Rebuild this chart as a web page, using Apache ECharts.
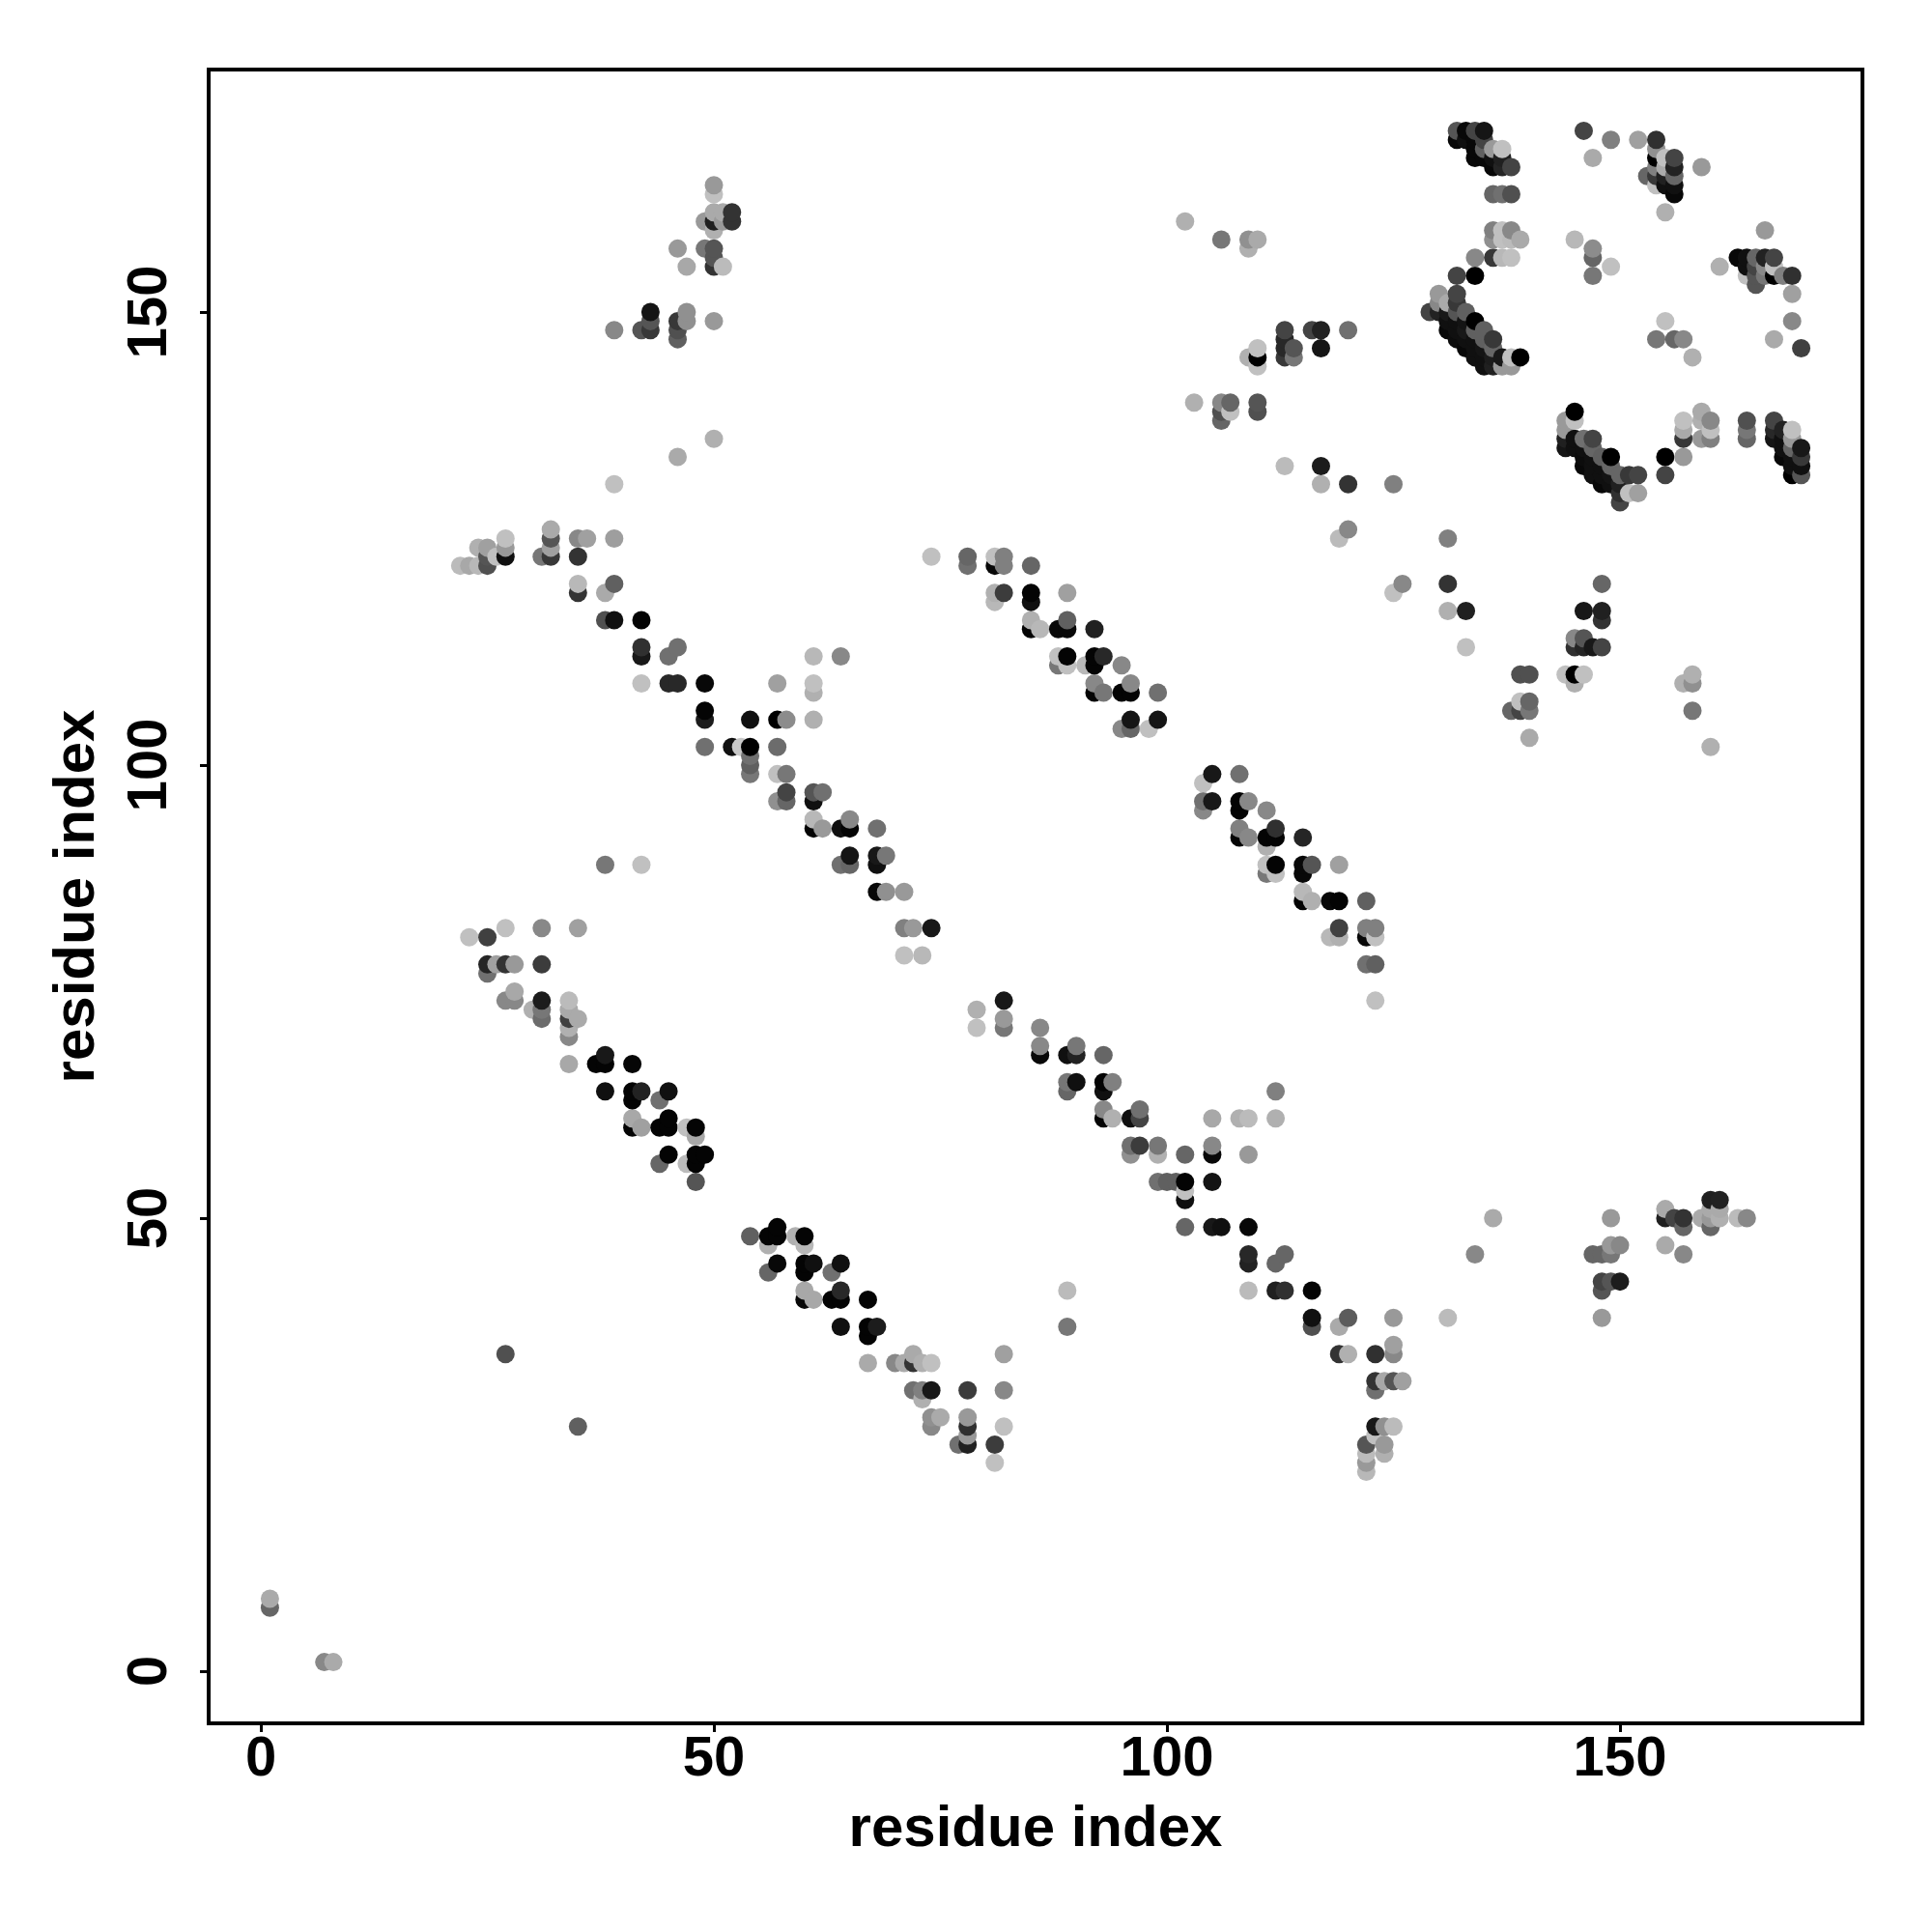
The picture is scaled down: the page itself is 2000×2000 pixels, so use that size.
<!DOCTYPE html>
<html><head><meta charset="utf-8">
<style>html,body{margin:0;padding:0;background:#fff}#c{width:2000px;height:2000px}</style>
<script src="https://cdn.jsdelivr.net/npm/echarts@6/dist/echarts.min.js"></script>
</head><body><div id="c"></div>
<script>
// each entry: [residue x, residue y, grey level]
const origin = [[1,8,0xaa],[1,7,0x66],[7,1,0x88],[8,1,0xaa],[27,35,0x50],[35,27,0x60]];
const helixLow1 = [[27,82,0xc0],[31,82,0x88],[35,82,0xa0],[23,81,0xc0],[25,81,0x40],[25,78,0x25],[26,78,0xa0],[27,78,0x33],[28,78,0x99],[31,78,0x3c],[25,77,0x70],[28,75,0xa8],[27,74,0x88],[28,74,0x88],[31,74,0x1c],[34,74,0xbb],[30,73,0xb0],[31,73,0x77],[34,73,0xaa],[31,72,0x6c],[34,72,0x40],[35,72,0xaa],[34,71,0xb0],[34,70,0x88],[38,68,0x18],[34,67,0xa8],[37,67,0x04],[38,67,0x04],[41,67,0x06],[38,64,0x10],[41,64,0x04],[42,64,0x22],[45,64,0x10],[41,63,0x04],[44,63,0x70],[41,61,0xa8],[45,61,0x04],[41,60,0x04],[42,60,0xa0],[44,60,0x04],[45,60,0x04],[47,60,0xc0],[48,60,0x04],[48,59,0xa8],[45,57,0x04],[48,57,0x04],[49,57,0x04],[44,56,0x66],[47,56,0xbb],[48,56,0x04],[48,54,0x55]];
const helixLow2 = [[57,49,0x04],[54,48,0x60],[56,48,0x04],[57,48,0x04],[59,48,0xb0],[60,48,0x04],[56,47,0xb0],[60,47,0xb8],[57,45,0x08],[60,45,0x04],[61,45,0x10],[64,45,0x10],[56,44,0x66],[60,44,0x04],[63,44,0x70],[60,42,0xa8],[64,42,0x28],[60,41,0x08],[61,41,0xa8],[63,41,0x04],[64,41,0x04],[67,41,0x04],[64,38,0x10],[67,38,0x04],[68,38,0x1c],[67,37,0x04],[72,35,0xaa],[82,35,0xa0],[67,34,0xaa],[70,34,0x88],[71,34,0xaa],[72,34,0x33],[73,34,0xb0],[74,34,0xc0],[72,31,0x70],[73,31,0x80],[74,31,0x18],[78,31,0x3c],[82,31,0x88],[73,30,0xb0],[74,28,0x90],[75,28,0xaa],[78,28,0x99],[74,27,0x88],[78,27,0x30],[82,27,0xc0],[78,26,0x99],[77,25,0x70],[78,25,0x20],[81,25,0x3c],[81,23,0xc0]];
const helixMid = [[82,74,0x18],[123,74,0xc0],[79,73,0xb0],[82,72,0x99],[79,71,0xc0],[82,71,0x77],[86,71,0x88],[86,69,0x88],[90,69,0x77],[86,68,0x08],[89,68,0x10],[90,68,0x22],[93,68,0x66],[89,65,0x77],[90,65,0x10],[93,65,0x04],[94,65,0x80],[89,64,0x66],[93,64,0x10],[112,64,0x80],[93,62,0x88],[97,62,0x70],[93,61,0x04],[94,61,0xb0],[96,61,0x10],[97,61,0x44],[105,61,0xa8],[108,61,0xb0],[109,61,0xbb],[112,61,0xb0],[96,58,0x70],[97,58,0x3c],[99,58,0x77],[105,58,0x88],[96,57,0x90],[99,57,0xb0],[102,57,0x66],[105,57,0x08],[109,57,0x99],[99,54,0x70],[100,54,0x60],[101,54,0x60],[102,54,0x04],[105,54,0x14],[102,53,0xc0],[102,52,0x10],[102,49,0x66],[105,49,0x18],[106,49,0x10],[109,49,0x08],[109,46,0x28],[113,46,0x66],[109,45,0x22],[112,45,0x66],[89,42,0xbb],[109,42,0xbb],[112,42,0x20],[113,42,0x30],[116,42,0x04],[89,38,0x77]];
const helixLow3 = [[116,39,0x10],[120,39,0x5c],[125,39,0x99],[116,38,0x50],[119,38,0xaa],[125,36,0xa0],[119,35,0x33],[120,35,0xb0],[123,35,0x30],[125,35,0x88],[123,32,0x33],[124,32,0xa8],[125,32,0x55],[126,32,0xa0],[123,31,0x70],[123,27,0x18],[124,27,0x90],[125,27,0xbb],[123,26,0xc0],[122,25,0x55],[124,25,0x99],[122,24,0xbb],[124,24,0xb0],[122,23,0x99],[122,22,0xb8]];
const sideLow = [[136,50,0xaa],[134,46,0x88],[131,39,0xbb],[149,50,0x99],[147,46,0x66],[148,46,0x66],[149,46,0x77],[149,47,0x99],[150,47,0x88],[148,43,0x44],[149,43,0x55],[150,43,0x1c],[148,42,0x55],[148,39,0x99],[155,51,0xaa],[155,50,0x20],[156,50,0x44],[157,50,0x33],[157,49,0x66],[155,47,0xaa],[157,46,0x88],[159,50,0xaa],[160,52,0x20],[161,52,0x22],[160,51,0xaa],[160,50,0x99],[160,49,0x66],[161,51,0xaa],[161,50,0xb0],[163,50,0xbb],[164,50,0x88]];
const helixUp1 = [[32,126,0xaa],[27,125,0xc0],[32,125,0x55],[35,125,0x88],[36,125,0xa0],[39,125,0x9e],[24,124,0xb0],[25,124,0xa0],[27,124,0x99],[32,124,0xa0],[25,123,0x55],[26,123,0xc0],[27,123,0x10],[31,123,0x77],[32,123,0x38],[35,123,0x33],[22,122,0xbb],[23,122,0xa8],[24,122,0xb8],[25,122,0x50],[35,120,0xb8],[39,120,0x60],[35,119,0x33],[38,119,0xaa],[38,116,0x50],[39,116,0x10],[42,116,0x04],[42,113,0x30],[46,113,0x70],[42,112,0x18],[45,112,0x70],[61,112,0xb8],[64,112,0x88],[42,109,0xc0],[45,109,0x28],[46,109,0x28],[49,109,0x08],[57,109,0xa0],[61,109,0xc0],[61,108,0xb0],[49,106,0x04],[49,105,0x1c],[54,105,0x10],[57,105,0x00],[58,105,0x8c],[61,105,0xb0],[49,102,0x70],[52,102,0x10],[53,102,0xc8],[54,102,0x00],[57,102,0x6c],[54,101,0x70],[54,100,0x60],[54,99,0x77],[57,99,0xc0],[58,99,0x77],[58,97,0x44],[61,97,0x55],[62,97,0x70],[57,96,0x90],[58,96,0x66],[61,96,0x10],[61,94,0xb8],[65,94,0x88],[61,93,0x04],[62,93,0x99],[64,93,0x10],[65,93,0x04],[68,93,0x70],[65,90,0x15],[68,90,0x18],[69,90,0x77],[38,89,0x77],[42,89,0xc0],[64,89,0x70],[65,89,0x66],[68,89,0x10],[68,86,0x08],[69,86,0x90],[71,86,0x99],[71,82,0x80],[72,82,0x99],[74,82,0x18],[71,79,0xc0],[73,79,0xb8]];
const helixUp2 = [[74,123,0xc0],[78,123,0x66],[81,123,0xc0],[82,123,0x80],[78,122,0x70],[81,122,0x08],[82,122,0x80],[85,122,0x66],[81,119,0xb0],[82,119,0x3c],[85,119,0x04],[89,119,0xa0],[81,118,0xb8],[85,118,0x10],[85,116,0xb0],[89,116,0x60],[85,115,0x04],[86,115,0xb8],[88,115,0x08],[89,115,0x08],[92,115,0x20],[88,112,0xc0],[89,112,0x04],[92,112,0x04],[93,112,0x28],[88,111,0x77],[89,111,0xc0],[91,111,0xb8],[92,111,0x04],[95,111,0x88],[92,109,0x88],[96,109,0x88],[92,108,0x04],[93,108,0x77],[95,108,0x04],[96,108,0x04],[99,108,0x70],[96,105,0x15],[99,105,0x15],[95,104,0x88],[96,104,0x66],[98,104,0xc0]];
const helixUp3 = [[105,99,0x18],[108,99,0x70],[104,98,0xc0],[104,96,0x70],[105,96,0x18],[108,96,0x04],[109,96,0x88],[104,95,0x88],[108,95,0x04],[111,95,0x88],[108,93,0x80],[112,93,0x30],[108,92,0x04],[109,92,0x88],[111,92,0x04],[112,92,0x04],[115,92,0x25],[111,91,0xb0],[111,89,0xc0],[112,89,0x04],[115,89,0x08],[116,89,0x55],[119,89,0xa0],[111,88,0x77],[112,88,0xc0],[115,88,0x08],[115,86,0xb8],[115,85,0x04],[116,85,0xb0],[118,85,0x08],[119,85,0x04],[122,85,0x60],[119,82,0x40],[122,82,0x80],[123,82,0x80],[118,81,0xb8],[119,81,0xb0],[122,81,0x08],[123,81,0xc0],[122,78,0x70],[123,78,0x60]];
const sideUp = [[50,164,0x99],[50,163,0xc0],[50,161,0xaa],[51,161,0xaa],[52,161,0x33],[49,160,0x99],[50,160,0x20],[51,160,0x99],[52,160,0x33],[50,159,0xb0],[46,157,0x99],[49,157,0x77],[50,157,0x55],[50,156,0x55],[47,155,0xa8],[50,155,0x33],[51,155,0xbb],[43,150,0x15],[47,150,0x90],[43,149,0x55],[46,149,0x38],[47,149,0x90],[50,149,0x99],[39,148,0x88],[42,148,0x55],[43,148,0x38],[46,148,0x50],[46,147,0x60],[50,136,0xb0],[46,134,0xaa],[39,131,0xc0]];
const midUp = [[102,160,0xb0],[106,158,0x77],[109,158,0x90],[109,157,0xb0],[110,158,0xaa],[113,148,0x44],[113,147,0x28],[113,146,0x28],[113,145,0x38],[114,146,0x55],[114,145,0x77],[116,148,0x44],[117,148,0x22],[117,146,0x15],[120,148,0x70],[109,145,0xb0],[110,146,0xc0],[110,145,0x00],[110,144,0xc0],[103,140,0xb0],[106,140,0x88],[107,140,0x66],[106,139,0x50],[107,139,0xc0],[106,138,0x66],[110,140,0x55],[110,139,0x50],[113,133,0xbb],[117,133,0x1c],[117,131,0xb0],[120,131,0x33],[125,131,0x80],[120,126,0x88],[119,125,0xbb],[125,119,0xc0],[126,120,0x88],[131,125,0x80],[131,120,0x33],[131,117,0xb0],[133,117,0x20],[133,113,0xc0]];
const clusterA = [[132,170,0x55],[132,169,0x08],[133,170,0x08],[133,169,0x10],[134,170,0x44],[134,169,0x08],[134,168,0x08],[134,167,0x08],[135,170,0x15],[135,169,0x44],[135,168,0x60],[135,167,0x08],[136,168,0x99],[136,167,0x10],[136,166,0x08],[137,168,0xc0],[137,167,0x20],[137,166,0x25],[138,166,0x44],[136,163,0x66],[137,163,0x70],[138,163,0x50],[136,159,0x80],[137,159,0xc0],[138,159,0x88],[136,158,0x90],[137,158,0xc0],[138,158,0xbb],[139,158,0xaa],[136,156,0x38],[137,156,0xb8],[138,156,0xc0],[134,156,0x88],[132,154,0x44],[134,154,0x00]];
const clusterB = [[132,152,0x44],[130,152,0x99],[130,151,0x88],[131,151,0xaa],[132,151,0x38],[129,150,0x44],[130,150,0x22],[131,150,0x18],[132,150,0x55],[133,150,0x60],[131,149,0x10],[132,149,0x10],[133,149,0x14],[134,149,0x00],[131,148,0x08],[132,148,0x10],[133,148,0x18],[134,148,0x60],[135,148,0x60],[132,147,0x0c],[133,147,0x10],[134,147,0x10],[135,147,0x60],[136,147,0x38],[133,146,0x08],[134,146,0x10],[135,146,0x14],[136,146,0x66],[134,145,0x10],[135,145,0x10],[136,145,0x1c],[137,145,0x18],[138,145,0xc0],[139,145,0x00],[135,144,0x10],[136,144,0x20],[137,144,0x99],[138,144,0x99]];
const clusterC = [[146,170,0x44],[149,169,0x80],[147,167,0xaa],[152,169,0xa0],[154,169,0x30],[154,168,0x90],[154,167,0x00],[154,166,0x80],[154,165,0x38],[153,165,0x66],[154,164,0xc0],[155,167,0xc0],[155,166,0xaa],[155,165,0x20],[155,164,0x10],[156,167,0x44],[156,166,0x22],[156,165,0x66],[156,164,0x10],[156,163,0x08],[155,161,0xb0],[159,166,0x99],[145,158,0xb8],[147,157,0x8c],[147,156,0x66],[149,155,0xc0],[147,154,0x77],[155,149,0xc0],[154,147,0x77],[156,147,0x66],[157,147,0x88],[158,145,0xb0]];
const clusterD = [[166,159,0x99],[161,155,0xb0],[163,156,0x08],[164,156,0x10],[165,156,0x66],[166,156,0x22],[167,156,0x44],[164,155,0x10],[165,155,0x44],[166,155,0x88],[167,155,0xc0],[164,154,0xc0],[165,154,0x55],[166,154,0x77],[167,154,0x00],[168,154,0x80],[169,154,0x30],[165,153,0x55],[169,152,0xa0],[169,149,0x88],[167,147,0xaa],[170,146,0x40]];
const clusterE = [[145,139,0x00],[144,138,0x99],[145,138,0xc0],[144,137,0x99],[144,136,0x20],[145,136,0x10],[146,136,0x70],[147,136,0x44],[144,135,0x15],[145,135,0x10],[146,135,0x10],[147,135,0x66],[146,134,0x0c],[147,134,0x10],[148,134,0x60],[149,134,0x00],[146,133,0x08],[147,133,0x10],[148,133,0x10],[149,133,0x66],[147,132,0x10],[148,132,0x10],[149,132,0x14],[150,132,0x66],[151,132,0x38],[152,132,0x44],[148,131,0x08],[149,131,0x10],[150,131,0x20],[150,130,0x30],[151,130,0xc0],[152,130,0xa0],[150,129,0x44],[155,134,0x00],[155,132,0x44],[157,134,0x99],[157,136,0x38],[157,137,0xaa],[157,138,0xc0],[159,139,0xaa],[159,138,0xb0],[160,138,0x88],[159,136,0x99],[160,137,0xc0],[160,136,0x80]];
const clusterF = [[164,138,0x50],[164,137,0x77],[164,136,0x66],[167,138,0x44],[167,137,0x28],[167,136,0x15],[168,137,0x22],[169,137,0xc0],[168,136,0x10],[169,136,0x99],[168,135,0x10],[169,135,0x66],[170,135,0x18],[168,134,0x08],[169,134,0x10],[170,134,0x38],[169,133,0x10],[170,133,0x10],[169,132,0x00],[170,132,0x55]];
const clusterG = [[139,110,0x50],[140,110,0x50],[138,106,0x66],[139,106,0x44],[140,106,0x77],[139,107,0xc0],[140,107,0x66],[140,103,0xaa],[144,110,0xc0],[145,110,0x00],[146,110,0xc0],[145,109,0xb0],[145,113,0x30],[146,113,0x25],[147,113,0x18],[148,113,0x44],[145,114,0x88],[146,114,0x55],[146,117,0x18],[148,117,0x20],[148,116,0x33],[148,120,0x66],[158,110,0xb0],[158,109,0x90],[157,109,0xb0],[158,106,0x77],[160,102,0xb0]];
const tickValues = [0, 50, 100, 150];
const axisName = 'residue index';
const axisRange = [-5.76, 176.76];

const contacts = [].concat(origin, helixLow1, helixLow2, helixLow3, helixMid, sideLow, helixUp1, helixUp2, helixUp3, sideUp, midUp, clusterA, clusterB, clusterC, clusterD, clusterE, clusterF, clusterG)
  .sort((a, b) => a[0] - b[0] || a[1] - b[1]);

const chart = echarts.init(document.getElementById('c'));
const font = 'Liberation Sans';
const axis = (extra) => Object.assign({
  type: 'value', min: axisRange[0], max: axisRange[1], splitLine: {show: false},
  name: axisName, nameLocation: 'middle',
  nameTextStyle: {fontFamily: font, fontWeight: 'bold', fontSize: 60, color: '#000'},
  axisLine: {show: true, onZero: false, lineStyle: {color: '#000', width: 4}},
  axisTick: {show: true, length: 9, lineStyle: {color: '#000', width: 3}, customValues: tickValues}
}, extra);
chart.setOption({
  animation: false,
  backgroundColor: '#fff',
  grid: {left: 216, top: 72, right: 72, bottom: 216, show: true, borderColor: '#000', borderWidth: 4, backgroundColor: 'transparent'},
  xAxis: axis({nameGap: 80,
    axisLabel: {customValues: tickValues, fontFamily: font, fontWeight: 'bold', fontSize: 58, color: '#000', margin: 9}}),
  yAxis: axis({nameGap: 106,
    axisLabel: {customValues: tickValues, fontFamily: font, fontWeight: 'bold', fontSize: 58, color: '#000', margin: 31, rotate: 90, align: 'center', verticalAlign: 'bottom'}}),
  series: [{
    type: 'scatter', symbol: 'circle', symbolSize: 19, clip: false,
    data: contacts.map(c => ({value: [c[0], c[1]], itemStyle: {color: `rgb(${c[2]},${c[2]},${c[2]})`, opacity: 1}}))
  }]
});
</script></body></html>
